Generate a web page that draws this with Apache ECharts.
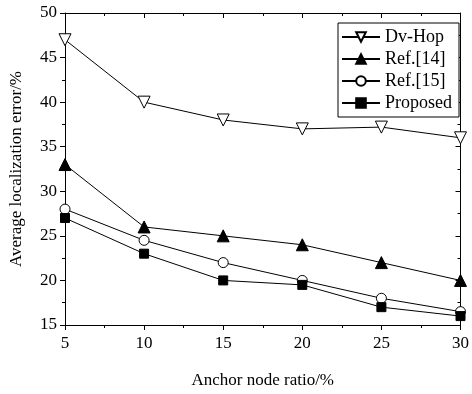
<!DOCTYPE html>
<html>
<head>
<meta charset="utf-8">
<script src="https://cdn.jsdelivr.net/npm/echarts@6/dist/echarts.min.js"></script>
<style>
html,body{margin:0;padding:0;background:#fff;}
#c{width:472px;height:394px;}
</style>
</head>
<body>
<div id="c"></div>
<script>
const xValues = [5, 10, 15, 20, 25, 30];
const dvHop = [47, 40, 38, 37, 37.2, 36];
const ref14 = [33, 26, 25, 24, 22, 20];
const ref15 = [28, 24.5, 22, 20, 18, 16.5];
const proposed = [27, 23, 20, 19.5, 17, 16];
const seriesNames = ['Dv-Hop', 'Ref.[14]', 'Ref.[15]', 'Proposed'];

const FONT = '"Liberation Serif", "Times New Roman", serif';
const chart = echarts.init(document.getElementById('c'), null, {renderer: 'canvas'});

function pairs(arr){ return xValues.map((x, i) => [x, arr[i]]); }

function mkSeries(name, data, symbol, filled, rotate, size){
  return {
    name: name, type: 'line', data: pairs(data),
    symbol: symbol, symbolSize: size, symbolRotate: rotate || 0,
    showAllSymbol: true,
    lineStyle: {color: '#000', width: 1},
    itemStyle: {color: filled ? '#000' : '#fff', borderColor: '#000', borderWidth: 1},
    emphasis: {disabled: true},
    z: 3
  };
}

function axis(inside, extra){
  return Object.assign({
    type: 'value',
    axisLine: {show: true, onZero: false, lineStyle: {color: '#000', width: 1}},
    axisTick: {show: true, inside: inside, length: 5, lineStyle: {color: '#000'}},
    minorTick: {show: true, splitNumber: 2, length: 3, lineStyle: {color: '#000'}},
    splitLine: {show: false},
    minorSplitLine: {show: false}
  }, extra);
}

const option = {
  backgroundColor: '#fff',
  animation: false,
  grid: {left: 57, right: 7, top: 13, bottom: 57, containLabel: false},
  legend: {
    show: true,
    right: 13, top: 23,
    orient: 'vertical',
    data: seriesNames,
    itemWidth: 38, itemHeight: 12, itemGap: 4,
    padding: [5, 7, 5, 3],
    borderColor: '#000', borderWidth: 1,
    backgroundColor: '#fff',
    textStyle: {fontFamily: FONT, fontSize: 18, color: '#000'},
    symbolRotate: 'inherit'
  },
  xAxis: [
    axis(false, {
      position: 'bottom', min: 5, max: 30, interval: 5,
      name: 'Anchor node ratio/%', nameLocation: 'middle', nameGap: 47,
      nameTextStyle: {fontFamily: FONT, fontSize: 17, color: '#000'},
      axisLabel: {fontFamily: FONT, fontSize: 17, color: '#000', margin: 10}
    }),
    axis(true, {
      position: 'top', min: 5, max: 30, interval: 5,
      axisLabel: {show: false}
    })
  ],
  yAxis: [
    axis(false, {
      position: 'left', min: 15, max: 50, interval: 5,
      name: 'Average localization error/%', nameLocation: 'middle', nameGap: 40,
      nameTextStyle: {fontFamily: FONT, fontSize: 17, color: '#000'},
      axisLabel: {fontFamily: FONT, fontSize: 17, color: '#000', margin: 8}
    }),
    axis(true, {
      position: 'right', min: 15, max: 50, interval: 5,
      axisLabel: {show: false}
    })
  ],
  series: [
    mkSeries('Dv-Hop', dvHop, 'triangle', false, 180, 12),
    mkSeries('Ref.[14]', ref14, 'triangle', true, 0, 12),
    mkSeries('Ref.[15]', ref15, 'circle', false, 0, 10),
    mkSeries('Proposed', proposed, 'rect', true, 0, 9)
  ]
};
chart.setOption(option);
</script>
</body>
</html>
